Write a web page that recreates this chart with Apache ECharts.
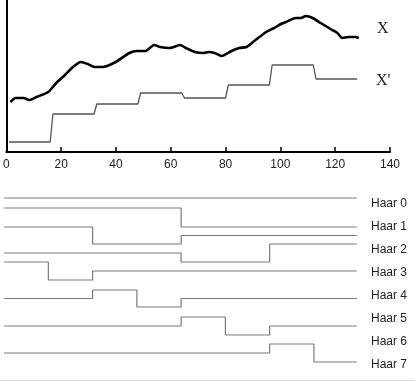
<!DOCTYPE html>
<html>
<head>
<meta charset="utf-8">
<script src="https://cdn.jsdelivr.net/npm/echarts@6/dist/echarts.min.js"></script>
<style>
  html, body { margin: 0; padding: 0; background: #fff; }
  #chart { width: 415px; height: 384px; }
</style>
</head>
<body>
<div id="chart"></div>
<script>
// signal X (thick black line)
const xPos = [1.5, 3.4, 6.3, 8.4, 11, 15.3, 18.2, 21.4, 24.3, 27.2, 29.7, 32.3, 35.2, 39.9, 44.9, 47.8, 50.7, 54, 56.1, 59.7, 63.4, 65.5, 68.8, 72, 73.8, 76, 78.5, 82.2, 85, 87.6, 90.5, 94.8, 97.7, 100.2, 102, 105.6, 107.5, 109.3, 111.8, 114.7, 118.3, 120.8, 122.6, 124.8, 127.3, 128.6]
const xVal = [50, 54, 54, 52, 55, 60, 69, 77, 85, 90, 88, 85, 85, 90, 99, 101, 101, 107, 105, 104, 107, 104, 100, 99, 100, 99, 96, 101, 104, 105, 111, 120, 124, 128, 130, 134, 134, 136, 134, 129, 123, 119, 114, 115, 115, 114]

// X' : block averages (8 blocks of 16 samples), drawn shifted down
const blockSize = 16
const xApprox = [10, 38, 48, 59, 54, 67, 87, 73]

// Haar basis functions, one value per 16-sample block
const haarNames = ['Haar 0', 'Haar 1', 'Haar 2', 'Haar 3', 'Haar 4', 'Haar 5', 'Haar 6', 'Haar 7']
const haar0 = [1, 1, 1, 1, 1, 1, 1, 1]
const haar1 = [1, 1, 1, 1, -1, -1, -1, -1]
const haar2 = [1, 1, -1, -1, 0, 0, 0, 0]
const haar3 = [0, 0, 0, 0, -1, -1, 1, 1]
const haar4 = [1, -1, 0, 0, 0, 0, 0, 0]
const haar5 = [0, 0, 1, -1, 0, 0, 0, 0]
const haar6 = [0, 0, 0, 0, 1, -1, 0, 0]
const haar7 = [0, 0, 0, 0, 0, 0, 1, -1]
const haars = [haar0, haar1, haar2, haar3, haar4, haar5, haar6, haar7]

const xTicks = [0, 20, 40, 60, 80, 100, 120, 140]

// layout of the small haar strips (top edge = +1, bottom edge = -1)
const stripTop = [198, 208, 227, 244, 262, 290, 317, 344]
const stripH = [18, 19, 17, 18, 18, 17, 18, 18]

const sigData = xPos.map((x, i) => [x, xVal[i]])
const approxData = []
xApprox.forEach((v, k) => {
  approxData.push([k * blockSize + 1, v])
  approxData.push([k * blockSize + blockSize, v])
})

function haarPoints(vals) {
  const pts = []
  vals.forEach((v, k) => {
    const a = k === 0 ? 0.5 : k * blockSize + 0.5
    const b = k === vals.length - 1 ? vals.length * blockSize : (k + 1) * blockSize + 0.5
    pts.push([a, v])
    pts.push([b, v])
  })
  return pts
}

const grids = [{ left: 2.7, right: 25, top: 0, height: 152 }]
const xAxes = [{
  type: 'value',
  gridIndex: 0,
  min: xTicks[0],
  max: xTicks[xTicks.length - 1],
  interval: 20,
  splitLine: { show: false },
  axisLine: { lineStyle: { color: '#000', width: 2 } },
  axisTick: { inside: true, length: 5, lineStyle: { color: '#000', width: 1.5 } },
  axisLabel: { color: '#222', fontSize: 12, fontFamily: 'Liberation Sans', margin: 7 }
}]
const yAxes = [{
  type: 'value',
  gridIndex: 0,
  min: 0,
  max: 152,
  splitLine: { show: false },
  axisLine: { show: true, lineStyle: { color: '#000', width: 2 } },
  axisTick: { show: false },
  axisLabel: { show: false }
}]
const series = [
  {
    name: 'X',
    type: 'line',
    xAxisIndex: 0,
    yAxisIndex: 0,
    data: sigData,
    showSymbol: false,
    smooth: 0.2,
    lineStyle: { color: '#000', width: 2.6 }
  },
  {
    name: "X'",
    type: 'line',
    xAxisIndex: 0,
    yAxisIndex: 0,
    data: approxData,
    showSymbol: false,
    lineStyle: { color: '#555', width: 1.3 }
  }
]

haars.forEach((vals, i) => {
  const g = i + 1
  grids.push({ left: 2.7, right: 25, top: stripTop[i], height: stripH[i] })
  xAxes.push({ type: 'value', gridIndex: g, min: 0, max: 140, show: false })
  yAxes.push({ type: 'value', gridIndex: g, min: -1, max: 1, show: false })
  series.push({
    name: haarNames[i],
    type: 'line',
    xAxisIndex: g,
    yAxisIndex: g,
    data: haarPoints(vals),
    showSymbol: false,
    clip: false,
    lineStyle: { color: '#7a7a7a', width: 1.2 }
  })
})

const labels = [
  { type: 'text', left: 377, top: 21, style: { text: 'X', font: '16px "Liberation Serif"', fill: '#222' } },
  { type: 'text', left: 376, top: 73, style: { text: "X'", font: '16px "Liberation Serif"', fill: '#222' } }
]
haarNames.forEach((n, i) => {
  labels.push({
    type: 'text',
    left: 371,
    top: 198 + i * 23,
    style: { text: n, font: '12px "Liberation Sans"', fill: '#222' }
  })
})
labels.push({ type: 'rect', left: 0, top: 380, shape: { width: 415, height: 1 }, style: { fill: '#ddd' } })

const myChart = echarts.init(document.getElementById('chart'))
myChart.setOption({
  animation: false,
  grid: grids,
  xAxis: xAxes,
  yAxis: yAxes,
  series: series,
  graphic: labels
})
</script>
</body>
</html>
